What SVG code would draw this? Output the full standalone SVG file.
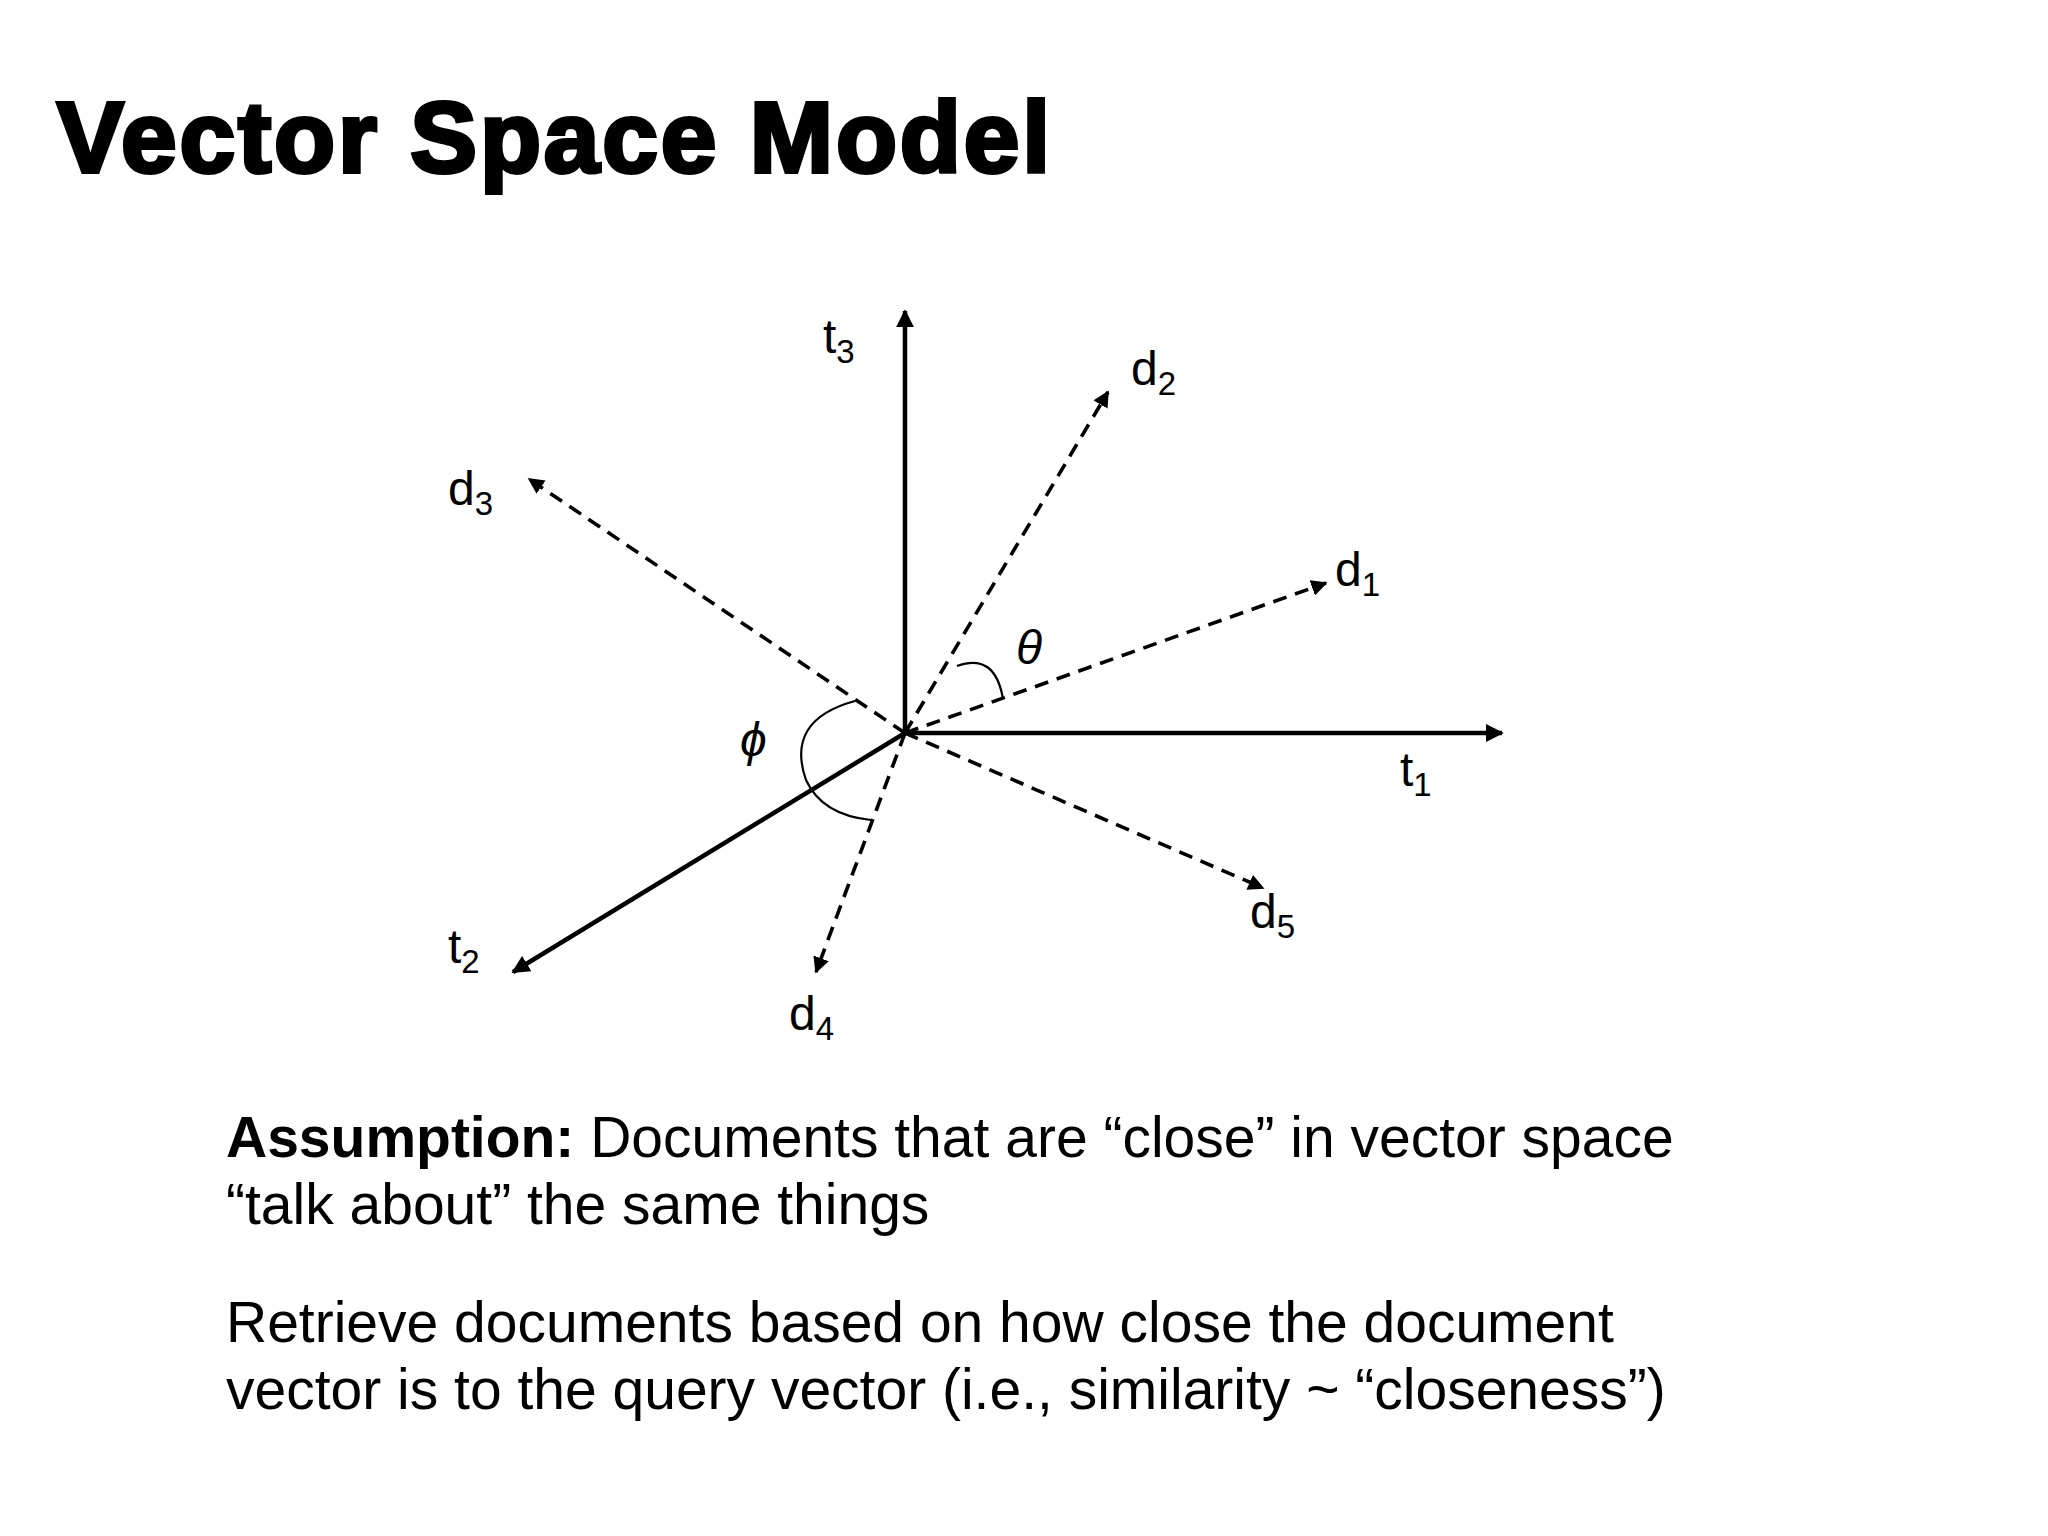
<svg xmlns="http://www.w3.org/2000/svg" width="2048" height="1536" viewBox="0 0 2048 1536">
<style>
.ax{stroke:#000;stroke-width:4.5;fill:none}
.dv{stroke:#000;stroke-width:3.6;fill:none;stroke-dasharray:14 9}
.arc{stroke:#000;stroke-width:2.2;fill:none}
.lb{font-family:"Liberation Sans",Arial,sans-serif;font-size:48px;fill:#000}
.sb{font-size:33px}
.tx{font-family:"Liberation Sans",Arial,sans-serif;font-size:57px;fill:#000}
</style>
<defs>
<marker id="ah" viewBox="0 0 10 10" refX="9" refY="5" markerWidth="4" markerHeight="4" orient="auto" markerUnits="strokeWidth"><path d="M0,0 L10,5 L0,10 z" fill="#000"/></marker>
<marker id="ahd" viewBox="0 0 10 10" refX="9" refY="5" markerWidth="4.5" markerHeight="4.5" orient="auto" markerUnits="strokeWidth"><path d="M0,0 L10,5 L0,10 z" fill="#000"/></marker>
</defs>
<rect width="2048" height="1536" fill="#fff"/>
<text x="57" y="172" font-family="Liberation Sans,Arial,sans-serif" font-weight="bold" font-size="100" stroke="#000" stroke-width="4" textLength="993" lengthAdjust="spacing">Vector Space Model</text>
<g id="connectors">
<line class="ax" x1="905" y1="733" x2="905" y2="311" marker-end="url(#ah)"/>
<line class="ax" x1="905" y1="733" x2="1502" y2="733" marker-end="url(#ah)"/>
<line class="ax" x1="905" y1="733" x2="513" y2="972" marker-end="url(#ah)"/>
<line class="dv" x1="905" y1="733" x2="1108" y2="392" marker-end="url(#ahd)"/>
<line class="dv" x1="905" y1="733" x2="529" y2="479" marker-end="url(#ahd)"/>
<line class="dv" x1="905" y1="733" x2="1326" y2="583" marker-end="url(#ahd)"/>
<line class="dv" x1="905" y1="733" x2="1263" y2="888" marker-end="url(#ahd)"/>
<line class="dv" x1="905" y1="733" x2="816" y2="972" marker-end="url(#ahd)"/>
<path class="arc" d="M957,666 Q995,652 1003,699"/>
<path class="arc" d="M855,701 Q785,720 806,780 Q822,815 871,820"/>
</g>
<g id="t3"><text class="lb" x="823" y="353">t<tspan class="sb" dy="10">3</tspan></text></g>
<g id="d2"><text class="lb" x="1131" y="385">d<tspan class="sb" dy="10">2</tspan></text></g>
<g id="d3"><text class="lb" x="448" y="505">d<tspan class="sb" dy="10">3</tspan></text></g>
<g id="d1"><text class="lb" x="1335" y="586">d<tspan class="sb" dy="10">1</tspan></text></g>
<g id="theta"><text class="lb" x="1016" y="664" font-style="italic" font-family="DejaVu Serif,serif">θ</text></g>
<g id="phi"><text class="lb" x="740" y="756" font-style="italic" font-family="DejaVu Serif,serif">ϕ</text></g>
<g id="t1"><text class="lb" x="1400" y="786">t<tspan class="sb" dy="10">1</tspan></text></g>
<g id="d5"><text class="lb" x="1250" y="928">d<tspan class="sb" dy="10">5</tspan></text></g>
<g id="t2"><text class="lb" x="448" y="963">t<tspan class="sb" dy="10">2</tspan></text></g>
<g id="d4"><text class="lb" x="789" y="1030">d<tspan class="sb" dy="10">4</tspan></text></g>
<g id="body">
<text class="tx" x="226" y="1157"><tspan font-weight="bold">Assumption:</tspan> Documents that are “close” in vector space</text>
<text class="tx" x="226" y="1224">“talk about” the same things</text>
<text class="tx" x="226" y="1342">Retrieve documents based on how close the document</text>
<text class="tx" x="226" y="1409">vector is to the query vector (i.e., similarity ~ “closeness”)</text>
</g>
</svg>
